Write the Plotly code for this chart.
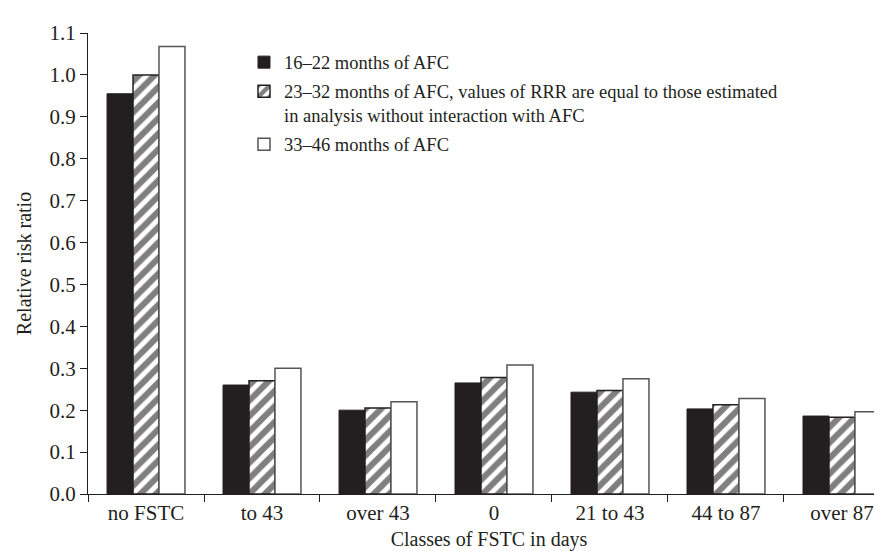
import plotly.graph_objects as go

categories = ["no FSTC", "to 43", "over 43", "0", "21 to 43", "44 to 87", "over 87"]
afc_16_22 = [0.955, 0.260, 0.200, 0.265, 0.243, 0.203, 0.186]
afc_23_32 = [1.000, 0.270, 0.205, 0.278, 0.247, 0.213, 0.183]
afc_33_46 = [1.068, 0.300, 0.220, 0.308, 0.275, 0.228, 0.196]
series_names = [
    "16–22 months of AFC",
    "23–32 months of AFC, values of RRR are equal to those estimated<br>in analysis without interaction with AFC",
    "33–46 months of AFC",
]
y_ticks = [0.0, 0.1, 0.2, 0.3, 0.4, 0.5, 0.6, 0.7, 0.8, 0.9, 1.0, 1.1]

DARK = "#231f20"
FONT = "Liberation Serif"

fig = go.Figure()
fig.add_trace(go.Bar(
    x=categories, y=afc_16_22, name=series_names[0], legendgroup="g1",
    marker=dict(color=DARK, line=dict(color=DARK, width=1)),
))
fig.add_trace(go.Bar(
    x=categories, y=afc_23_32, name=series_names[1], legendgroup="g2",
    marker=dict(color="white", line=dict(color=DARK, width=1.5),
                pattern=dict(shape="/", fgcolor="#000000", bgcolor="white", size=11, solidity=0.55)),
))
fig.add_trace(go.Bar(
    x=categories, y=afc_33_46, name=series_names[2], legendgroup="g3",
    marker=dict(color="white", line=dict(color="#555555", width=1.5)),
))

fig.update_layout(
    width=882, height=551,
    margin=dict(l=80, r=0, t=25, b=65),
    paper_bgcolor="white", plot_bgcolor="white",
    font=dict(family=FONT, size=20, color=DARK),
    barmode="group", bargap=0.328, bargroupgap=0,
    showlegend=True,
    legend=dict(
        x=0.1945, y=0.977, xanchor="left", yanchor="top",
        bgcolor="rgba(0,0,0,0)", font=dict(family=FONT, size=18.5, color=DARK),
        valign="top", traceorder="grouped", tracegroupgap=2, itemwidth=30,
    ),
    xaxis=dict(
        type="category", range=[-0.5, 6.414], tickson="boundaries",
        ticks="outside", ticklen=7, tickcolor=DARK, tickwidth=1,
        showline=True, linecolor=DARK, linewidth=1.2, showgrid=False,
        ticklabelstandoff=0,
        title=dict(text="Classes of FSTC in days", standoff=7, font=dict(size=20)),
        tickfont=dict(size=21),
        automargin=False,
    ),
    yaxis=dict(
        range=[0, 1.1], tickvals=y_ticks, tickformat=".1f",
        ticks="outside", ticklen=7, tickcolor=DARK, tickwidth=1,
        showline=True, linecolor=DARK, linewidth=1.2, showgrid=False, zeroline=False,
        title=dict(text="Relative risk ratio", standoff=12, font=dict(size=20)),
        tickfont=dict(size=21),
        automargin=False,
    ),
)

fig.write_html("out.html")
